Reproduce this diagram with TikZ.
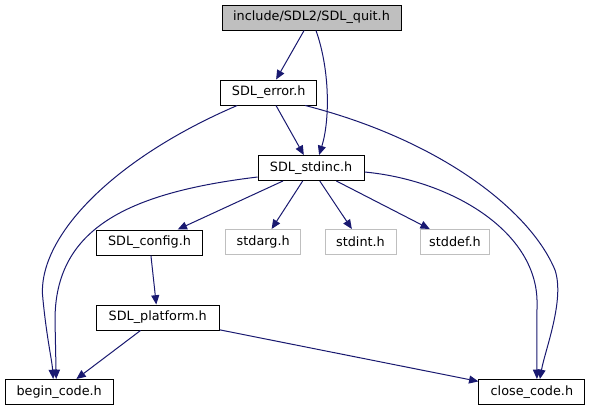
\documentclass[tikz,border=0pt]{standalone}
\usepackage{fontspec}
\setmainfont{DejaVu Sans}
\usetikzlibrary{arrows.meta,calc}
\definecolor{edgeblue}{HTML}{191970}
\definecolor{boxgray}{HTML}{BFBFBF}
\begin{document}
\begin{tikzpicture}[x=0.75pt,y=-0.75pt,
  every node/.style={font=\fontsize{9.6}{11}\selectfont, inner sep=0pt, minimum height=18.75pt},
  filebox/.style={draw=black, line width=0.75pt, fill=white},
  extbox/.style={draw=boxgray, line width=0.75pt, fill=white},
  edge/.style={draw=edgeblue, line width=0.75pt, -{Triangle[length=7pt,width=6pt]}}]
\useasboundingbox[fill=white] (0,0) rectangle (591,411);
% nodes
\node[filebox, fill=boxgray, minimum width=134.25pt] (quit) at (311.5,17.5) {include/SDL2/SDL\_quit.h};
\node[filebox, minimum width=72pt] (error) at (268.7,92.5) {SDL\_error.h};
\node[filebox, minimum width=79.5pt] (stdinc) at (311.1,168) {SDL\_stdinc.h};
\node[filebox, minimum width=79.5pt] (config) at (149.5,242.5) {SDL\_config.h};
\node[extbox, minimum width=56.25pt] (stdarg) at (263.2,242) {stdarg.h};
\node[extbox, minimum width=53.25pt] (stdint) at (360.5,242) {stdint.h};
\node[extbox, minimum width=51.75pt] (stddef) at (455,242) {stddef.h};
\node[filebox, minimum width=92.25pt] (platform) at (157.7,317.5) {SDL\_platform.h};
\node[filebox, minimum width=81pt] (begin) at (59.2,392) {begin\_code.h};
\node[filebox, minimum width=79.5pt] (close) at (531.9,392) {close\_code.h};
% straight edges
\draw[edge] (quit) -- (error);
\draw[edge] (error) -- (stdinc);
\draw[edge] (stdinc) -- (config);
\draw[edge] (stdinc) -- (stdarg);
\draw[edge] (stdinc) -- (stdint);
\draw[edge] (stdinc) -- (stddef);
\draw[edge] (config) -- (platform);
\draw[edge] (platform) -- (begin);
\draw[edge] (platform) -- (close);
% curved edges
\draw[edge] ($(quit.south)+(4.5,0)$) .. controls (330,70) and (330,120) .. ($(stdinc.north)+(8,0)$);
\draw[edge] ($(error.south west)+(17,0)$) .. controls (110,160) and (35,240) .. (43,300)
  .. controls (47,340) and (52,360) .. ($(begin.north)+(-6,0)$);
\draw[edge] ($(error.south east)+(-12,0)$) .. controls (440,140) and (530,210) .. (555,270)
  .. controls (565,300) and (545,350) .. ($(close.north)+(8,0)$);
\draw[edge] ($(stdinc.south west)+(0,-4)$) .. controls (125,193) and (55,230) .. (55,320)
  -- ($(begin.north)+(-3,0)$);
\draw[edge] ($(stdinc.north east)+(0,17)$) .. controls (450,180) and (535,230) .. (537,300)
  -- ($(close.north)+(5,0)$);
\end{tikzpicture}
\end{document}
